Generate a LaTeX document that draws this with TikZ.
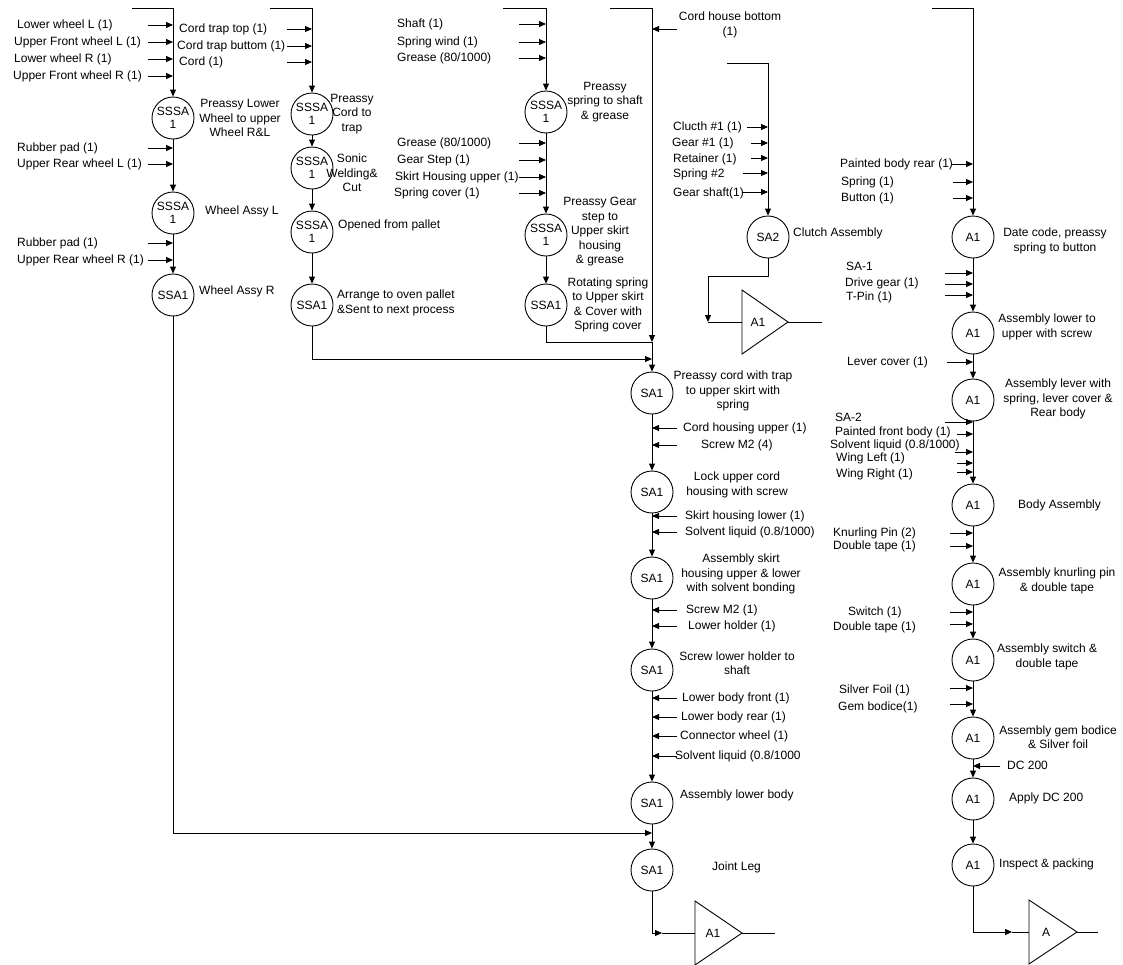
\documentclass[tikz,border=0pt]{standalone}
\usepackage{fontspec}
\setmainfont{Liberation Sans}
\usetikzlibrary{arrows.meta}

% input part: name, text x, text y, arrow start x, arrow y, target node, text
\newcommand\partin[7]{%
  \node[part] (#1) at (#2,#3) {#7};
  \coordinate (#1s) at (#4,#5);
  \draw[arr] (#1s) -- (#1s -| #6);}

\begin{document}
\begin{tikzpicture}[x=1pt,y=-1pt,
  every node/.style={font=\fontsize{12}{14.5}\selectfont, inner sep=0pt},
  proc/.style={circle, draw, line width=0.9pt, minimum size=42pt, align=center,
    font=\fontsize{12}{13}\selectfont},
  note/.style={align=center},
  notel/.style={anchor=west, align=left},
  part/.style={anchor=west, text height=9pt, text depth=2.5pt},
  flow/.style={line width=0.9pt},
  arr/.style={flow, -{Triangle[length=7pt,width=6pt]}},
]
\useasboundingbox (0,0) rectangle (1123,964);

% ---------------- process circles ----------------
% wheel line
\node[proc] (p11) at (173,118) {SSSA\\1};
\node[proc] (p12) at (173,213) {SSSA\\1};
\node[proc] (p13) at (173,295) {SSA1};
% cord trap line
\node[proc] (p21) at (312,114) {SSSA\\1};
\node[proc] (p22) at (312,168) {SSSA\\1};
\node[proc] (p23) at (312,232) {SSSA\\1};
\node[proc] (p24) at (312,305) {SSA1};
% spring / gear line
\node[proc] (p31) at (546,112) {SSSA\\1};
\node[proc] (p32) at (546,235) {SSSA\\1};
\node[proc] (p33) at (546,305) {SSA1};
% main sub-assembly line
\node[proc] (m1) at (652,393) {SA1};
\node[proc] (m2) at (652,492) {SA1};
\node[proc] (m3) at (652,578) {SA1};
\node[proc] (m4) at (652,670) {SA1};
\node[proc] (m5) at (652,803) {SA1};
\node[proc] (m6) at (652,870) {SA1};
% clutch
\node[proc] (sa2) at (768,237) {SA2};
% final assembly line
\node[proc] (r1) at (973,237) {A1};
\node[proc] (r2) at (973,333) {A1};
\node[proc] (r3) at (973,400) {A1};
\node[proc] (r4) at (973,505) {A1};
\node[proc] (r5) at (973,584) {A1};
\node[proc] (r6) at (973,660) {A1};
\node[proc] (r7) at (973,738) {A1};
\node[proc] (r8) at (973,799) {A1};
\node[proc] (r9) at (973,865) {A1};

% ---------------- step descriptions ----------------
\node[note] (d11) at (240,118) {Preassy Lower\\Wheel to upper\\Wheel R\&L};
\node[notel] (d12) at (205,211) {Wheel Assy L};
\node[notel] (d13) at (199,291) {Wheel Assy R};
\node[note] (d21) at (352,114) {Preassy\\Cord to\\trap};
\node[note] (d22) at (352,173) {Sonic\\Welding\&\\Cut};
\node[notel] (d23) at (338,225) {Opened from pallet};
\node[notel] (d24) at (337,303) {Arrange to oven pallet\\\&Sent to next process};
\node[note] (d31) at (605,102) {Preassy\\spring to shaft\\\& grease};
\node[note] (d32) at (600,232) {Preassy Gear\\step to\\Upper skirt\\housing\\\& grease};
\node[note] (d33) at (608,305) {Rotating spring\\to Upper skirt\\\& Cover with\\Spring cover};
\node[note] (dm1) at (733,391) {Preassy cord with trap\\to upper skirt with\\spring};
\node[note] (dm2) at (737,485) {Lock upper cord\\housing with screw};
\node[note] (dm3) at (741,574) {Assembly skirt\\housing upper \& lower\\with solvent bonding};
\node[note] (dm4) at (737,663) {Screw lower holder to\\shaft};
\node[notel] (dm5) at (680,795) {Assembly lower body};
\node[notel] (dm6) at (712,867) {Joint Leg};
\node[notel] (dsa2) at (793,233) {Clutch Assembly};
\node[note] (dr1) at (1055,241) {Date code, preassy\\spring to button};
\node[note] (dr2) at (1047,327) {Assembly lower to\\upper with screw};
\node[note] (dr3) at (1058,399) {Assembly lever with\\spring, lever cover \&\\Rear body};
\node[notel] (dr4) at (1018,505) {Body Assembly};
\node[note] (dr5) at (1057,581) {Assembly knurling pin\\\& double tape};
\node[note] (dr6) at (1047,657) {Assembly switch \&\\double tape};
\node[note] (dr7) at (1058,737) {Assembly gem bodice\\\& Silver foil};
\node[notel] (dr8) at (1009,798) {Apply DC 200};
\node[notel] (dr9) at (999,864) {Inspect \& packing};

% ---------------- flow lines ----------------
\coordinate (c1top) at (132,8);
\draw[arr] (c1top) -| (p11);
\draw[arr] (p11) -- (p12);
\draw[arr] (p12) -- (p13);

\coordinate (c2top) at (270,8);
\draw[arr] (c2top) -| (p21);
\draw[arr] (p21) -- (p22);
\draw[arr] (p22) -- (p23);
\draw[arr] (p23) -- (p24);

\coordinate (c3top) at (503,8);
\draw[arr] (c3top) -| (p31);
\draw[arr] (p31) -- (p32);
\draw[arr] (p32) -- (p33);

\coordinate (mtop) at (610,8);
\coordinate (mj) at (652,342);
\coordinate (mj2) at (652,359);
\coordinate (mj3) at (652,833);
\draw[arr] (mtop) -| (mj);
\draw[flow] (p33) |- (mj);
\draw[arr] (p24) |- (mj2);
\draw[arr] (mj) -- (m1);
\draw[arr] (m1) -- (m2);
\draw[arr] (m2) -- (m3);
\draw[arr] (m3) -- (m4);
\draw[arr] (m4) -- (m5);
\draw[arr] (m5) -- (m6);
\draw[arr] (p13) |- (mj3);

% cord house bottom enters from the right
\node[note] (cordhouse) at (730,25) {Cord house bottom\\(1)};
\coordinate (cordhs) at (677,29);
\draw[arr] (cordhs) -- (cordhs -| mj);

% sub-assembly A1 store
\coordinate (t1a) at (662,933);
\coordinate (t1in) at (695,933);
\coordinate (t1out) at (742,933);
\coordinate (t1end) at (775,933);
\draw[arr] (m6) |- (t1a);
\draw[flow] (t1a) -- (t1in);
\draw[flow] (695,901) -- (695,965) -- (t1out) -- cycle;
\node (t1) at (713,933) {A1};
\draw[flow] (t1out) -- (t1end);

% clutch line
\coordinate (c4top) at (727,63);
\draw[arr] (c4top) -| (sa2);
\coordinate (ck1) at (708,276);
\coordinate (ck2) at (708,322);
\coordinate (t2in) at (742,322);
\coordinate (t2out) at (788,322);
\coordinate (t2end) at (822,322);
\draw[arr] (sa2) |- (ck1) -- (ck2);
\draw[flow] (ck2) -- (t2in);
\draw[flow] (742,290) -- (742,354) -- (t2out) -- cycle;
\node (t2) at (758,322) {A1};
\draw[flow] (t2out) -- (t2end);

% final assembly line
\coordinate (c5top) at (932,8);
\draw[arr] (c5top) -| (r1);
\draw[arr] (r1) -- (r2);
\draw[arr] (r2) -- (r3);
\draw[arr] (r3) -- (r4);
\draw[arr] (r4) -- (r5);
\draw[arr] (r5) -- (r6);
\draw[arr] (r6) -- (r7);
\draw[arr] (r7) -- (r8);
\draw[arr] (r8) -- (r9);
\coordinate (t3a) at (1012,932);
\coordinate (t3in) at (1029,932);
\coordinate (t3out) at (1077,932);
\coordinate (t3end) at (1098,932);
\draw[arr] (r9) |- (t3a);
\draw[flow] (t3a) -- (t3in);
\draw[flow] (1029,900) -- (1029,964) -- (t3out) -- cycle;
\node (t3) at (1046,932) {A};
\draw[flow] (t3out) -- (t3end);

% ---------------- parts ----------------
\partin{i1}{17}{25}{148}{25}{p11}{Lower wheel L (1)}
\partin{i2}{14}{42}{148}{42}{p11}{Upper Front wheel L (1)}
\partin{i3}{14}{59}{148}{59}{p11}{Lower wheel R (1)}
\partin{i4}{13}{76}{148}{76}{p11}{Upper Front wheel R (1)}
\partin{i5}{17}{148}{148}{148}{p11}{Rubber pad (1)}
\partin{i6}{17}{164}{148}{164}{p11}{Upper Rear wheel L (1)}
\partin{i7}{17}{243}{148}{243}{p11}{Rubber pad (1)}
\partin{i8}{17}{260}{148}{260}{p11}{Upper Rear wheel R (1)}

\partin{j1}{179}{29}{287}{29}{p21}{Cord trap top (1)}
\partin{j2}{177}{46}{287}{46}{p21}{Cord trap buttom (1)}
\partin{j3}{179}{62}{287}{62}{p21}{Cord (1)}

\partin{k1}{397}{24}{519}{24}{p31}{Shaft (1)}
\partin{k2}{397}{42}{519}{42}{p31}{Spring wind (1)}
\partin{k3}{397}{58}{519}{58}{p31}{Grease (80/1000)}
\partin{k4}{397}{143}{519}{143}{p31}{Grease (80/1000)}
\partin{k5}{397}{160}{519}{160}{p31}{Gear Step (1)}
\partin{k6}{395}{177}{519}{177}{p31}{Skirt Housing upper (1)}
\partin{k7}{394}{193}{519}{193}{p31}{Spring cover (1)}

\partin{n1}{683}{428}{677}{428}{m1}{Cord housing upper (1)}
\partin{n2}{701}{445}{677}{445}{m1}{Screw M2 (4)}
\partin{n3}{685}{516}{677}{516}{m1}{Skirt housing lower (1)}
\partin{n4}{685}{532}{677}{532}{m1}{Solvent liquid (0.8/1000)}
\partin{n5}{686}{610}{677}{610}{m1}{Screw M2 (1)}
\partin{n6}{688}{626}{677}{626}{m1}{Lower holder (1)}
\partin{n7}{682}{698}{677}{698}{m1}{Lower body front (1)}
\partin{n8}{681}{717}{677}{717}{m1}{Lower body rear (1)}
\partin{n9}{680}{736}{677}{736}{m1}{Connector wheel (1)}
\partin{n10}{675}{756}{677}{756}{m1}{Solvent liquid (0.8/1000}

\partin{q1}{673}{127}{747}{127}{sa2}{Clucth \#1 (1)}
\partin{q2}{672}{143}{751}{143}{sa2}{Gear \#1 (1)}
\partin{q3}{673}{159}{751}{158}{sa2}{Retainer (1)}
\partin{q4}{673}{174}{743}{173}{sa2}{Spring \#2}
\partin{q5}{673}{193}{743}{192}{sa2}{Gear shaft(1)}

\partin{s1}{840}{164}{952}{164}{r1}{Painted body rear (1)}
\partin{s2}{841}{182}{953}{182}{r1}{Spring (1)}
\partin{s3}{841}{198}{953}{198}{r1}{Button (1)}
\partin{s4}{846}{267}{945}{273}{r1}{SA-1}
\partin{s5}{845}{283}{945}{284}{r1}{Drive gear (1)}
\partin{s6}{846}{297}{945}{295}{r1}{T-Pin (1)}
\partin{s7}{847}{362}{947}{362}{r1}{Lever cover (1)}
\partin{s8}{835}{418}{945}{422}{r1}{SA-2}
\partin{s9}{835}{432}{957}{434}{r1}{Painted front body (1)}
\partin{s10}{830}{445}{955}{452}{r1}{Solvent liquid (0.8/1000)}
\partin{s11}{836}{458}{957}{463}{r1}{Wing Left (1)}
\partin{s12}{836}{474}{957}{472}{r1}{Wing Right (1)}
\partin{s13}{833}{533}{950}{533}{r1}{Knurling Pin (2)}
\partin{s14}{833}{546}{950}{546}{r1}{Double tape (1)}
\partin{s15}{848}{612}{950}{612}{r1}{Switch (1)}
\partin{s16}{833}{627}{950}{624}{r1}{Double tape (1)}
\partin{s17}{839}{690}{950}{688}{r1}{Silver Foil (1)}
\partin{s18}{838}{707}{950}{704}{r1}{Gem bodice(1)}
\partin{s19}{1007}{766}{1000}{766}{r1}{DC 200}

\end{tikzpicture}
\end{document}
